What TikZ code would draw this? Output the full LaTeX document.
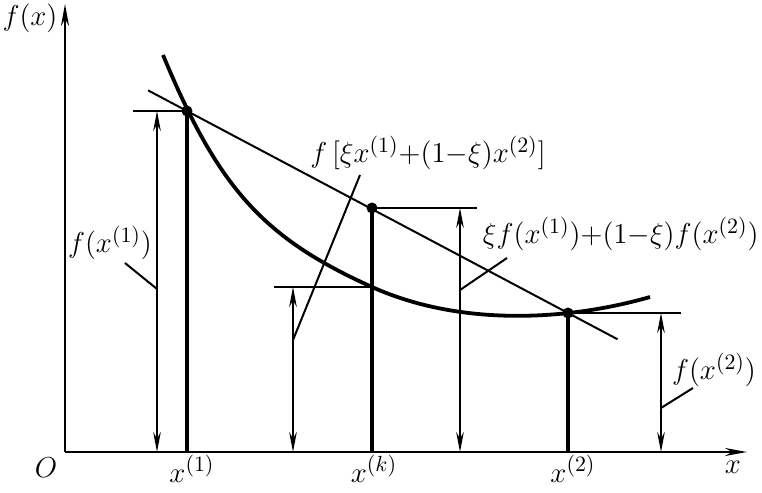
\documentclass[tikz,border=0pt]{standalone}
\usetikzlibrary{arrows.meta,calc}
\begin{document}
\tikzset{
  thinline/.style={line width=1pt},
  thickline/.style={line width=1.9pt},
  axisline/.style={line width=1.3pt,-{Stealth[length=11pt,width=4pt]}},
  dimline/.style={line width=1pt,{Stealth[length=10pt,width=3.8pt]}-{Stealth[length=10pt,width=3.8pt]}},
  lbl/.style={font=\fontsize{15}{17}\selectfont, inner sep=0pt},
  dot/.style={circle, fill, inner sep=0pt, minimum size=5.5pt}
}
\begin{tikzpicture}[x=0.5pt,y=-0.5pt]
\useasboundingbox (0,0) rectangle (762,493);
% axes
\coordinate (O) at (65,452);
\coordinate (ytop) at (65,4);
\coordinate (xend) at (747,452);
\draw[axisline] (O) -- (ytop);
\draw[axisline] (O) -- (xend);
% points
\node[dot] (P1) at (187,111) {};
\node[dot] (Pk) at (372,208) {};
\node[dot] (P2) at (568,313) {};
\coordinate (Q) at (372,287);
% curve
\coordinate (C0) at (163,55);
\coordinate (C3) at (650,297);
\draw[thickline] (C0) .. controls (218,187) and (262,237.5) .. (Q)
                      .. controls (462,327.5) and (570,320) .. (C3);
% chord
\draw[thinline] ($(P1.center)!-0.102!(P2.center)$) -- ($(P1.center)!1.13!(P2.center)$);
% vertical thick lines
\draw[thickline] (P1.center) -- (P1 |- O);
\draw[thickline] (Pk.center) -- (Pk |- O);
\draw[thickline] (P2.center) -- (P2 |- O);
% horizontal reference lines
\coordinate (h1) at (133,111);
\coordinate (hk) at (477,208);
\coordinate (hq) at (274,287);
\coordinate (h2) at (681,313);
\draw[thinline] (P1.center) -- (h1);
\draw[thinline] (Pk.center) -- (hk);
\draw[thinline] (Q) -- (hq);
\draw[thinline] (P2.center) -- (h2);
% dimension arrows
\coordinate (d1t) at (157,111); \coordinate (d1b) at (157,452);
\coordinate (dqt) at (293,287); \coordinate (dqb) at (293,452);
\coordinate (dkt) at (460,208); \coordinate (dkb) at (460,452);
\coordinate (d2t) at (661,313); \coordinate (d2b) at (661,452);
\draw[dimline] (d1t) -- (d1b);
\draw[dimline] (dqt) -- (dqb);
\draw[dimline] (dkt) -- (dkb);
\draw[dimline] (d2t) -- (d2b);
% labels
\node[lbl] (lfx) at (30,18) {$f(x)$};
\node[lbl] (lO) at (46,468) {$O$};
\node[lbl] (lx) at (733,467) {$x$};
\node[lbl] (lx1) at (192,469) {$x^{(1)}$};
\node[lbl] (lxk) at (374,469) {$x^{(k)}$};
\node[lbl] (lx2) at (573,469) {$x^{(2)}$};
\node[lbl] (lf1) at (110,243) {$f(x^{(1)})$};
\node[lbl] (lfm) at (428,153) {$f\,[\xi x^{(1)}{+}(1{-}\xi)x^{(2)}]$};
\node[lbl,anchor=east] (lch) at (759,234) {$\xi f(x^{(1)}){+}(1{-}\xi)f(x^{(2)})$};
\node[lbl] (lf2) at (714,370) {$f(x^{(2)})$};
% leaders
\coordinate (a1) at (125,263); \coordinate (b1) at (157,289);
\coordinate (am) at (360,175); \coordinate (bm) at (293,340);
\coordinate (ak) at (507,258); \coordinate (bk) at (460,290);
\coordinate (a2) at (693,388); \coordinate (b2) at (661,408);
\draw[thinline] (a1) -- (b1);
\draw[thinline] (am) -- (bm);
\draw[thinline] (ak) -- (bk);
\draw[thinline] (a2) -- (b2);
\end{tikzpicture}
\end{document}
